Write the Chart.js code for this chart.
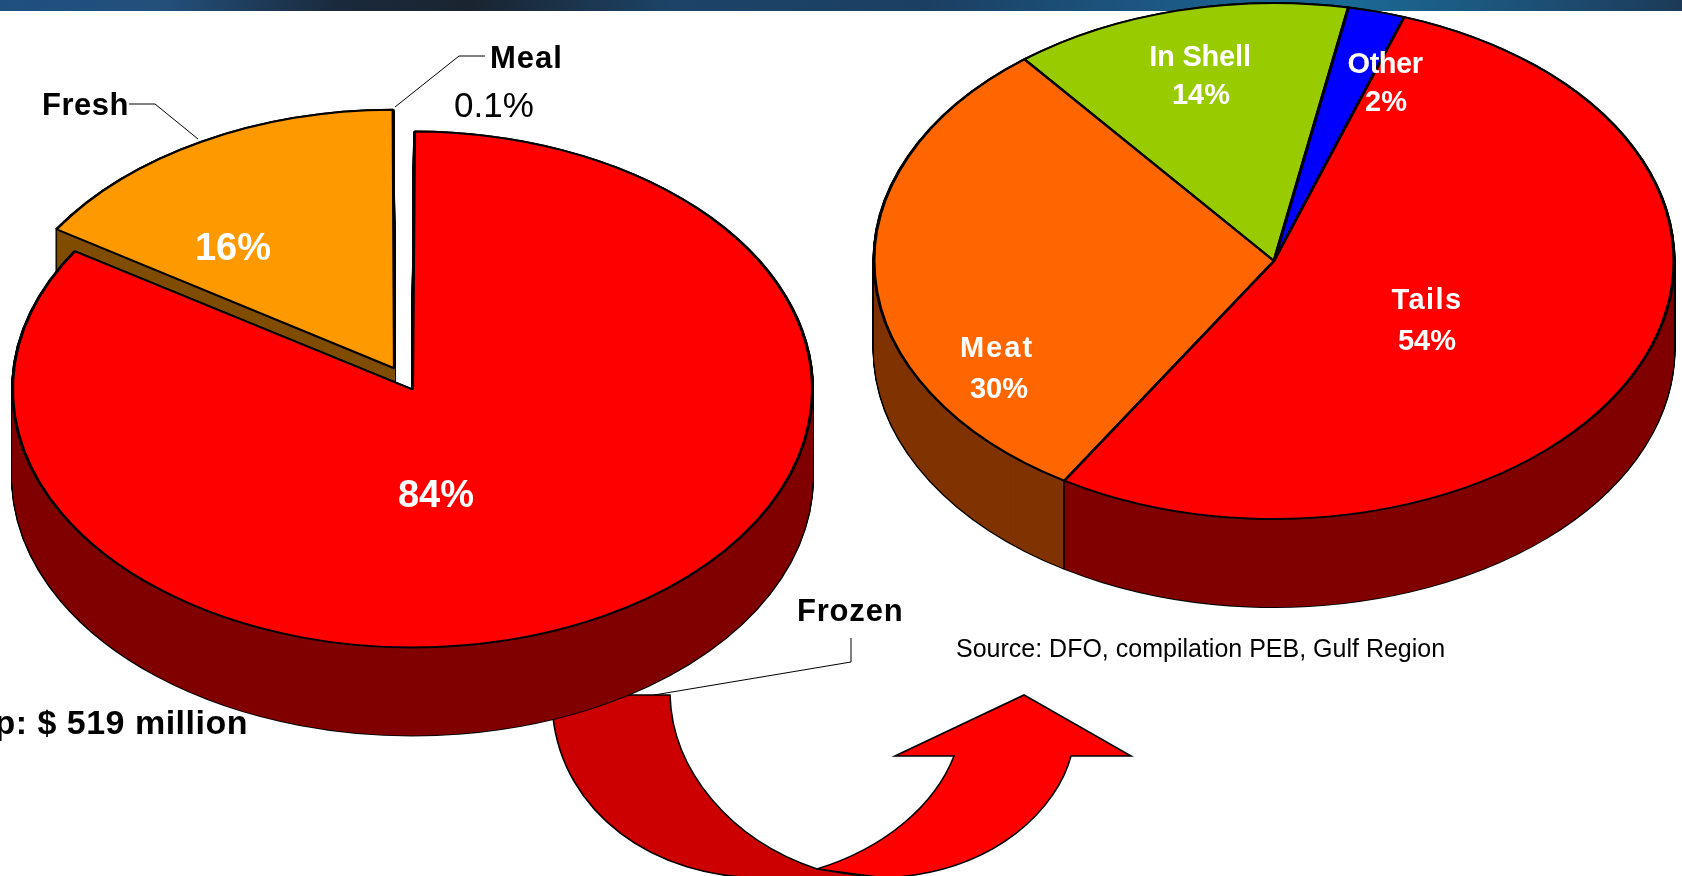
<!DOCTYPE html>
<html><head><meta charset="utf-8">
<style>html,body{margin:0;padding:0;background:#fff;overflow:hidden}
canvas{position:absolute;left:0;top:0}</style>
<script src="https://cdn.jsdelivr.net/npm/chart.js@4"></script>
</head><body>
<canvas id="a" width="1682" height="876"></canvas>
<canvas id="b" width="1682" height="876"></canvas>
<script>
const leftCategories=['Frozen','Fresh','Meal'];
const leftValues=[84,16,0.1];
const leftColors=['#ff0000','#ff9900','#ffffff'];
const leftWalls=['#800000','#804d00',null];
const leftOffsets=[0,150,0];
const rightCategories=['Tails','Meat','In Shell','Other'];
const rightValues=[53.5,30.5,13.7,2.3];
const rightPercents=['54%','30%','14%','2%'];
const rightColors=['#ff0000','#ff6600','#99cc00','#0000ff'];
const rightWalls=['#800000','#803300','#4d6600','#000080'];
const totalText='p: $ 519 million';
const sourceText='Source: DFO, compilation PEB, Gulf Region';
const FONT='"Liberation Sans", Arial, sans-serif';
const RX=400,K=0.645,DEPTH=88,EDGE=3;

function withOpts(arc,over,fn){const o=arc.options;const n=Object.create(o);
  for(const k in over)Object.defineProperty(n,k,{value:over[k]});arc.options=n;fn();arc.options=o;}
function pieAt(ctx,arc,cx,cy){ctx.save();ctx.translate(cx,cy);ctx.scale(1,K);ctx.translate(-arc.x,-arc.y);arc.draw(ctx);ctx.restore();}
function drawPie(chart,cx,cy,walls,wallOrder,topOrder){
  const ctx=chart.ctx,arcs=chart.getDatasetMeta(0).data;
  const wall=i=>{const a=arcs[i];if(!walls[i])return;
    withOpts(a,{backgroundColor:'#000',borderColor:'#000',borderWidth:EDGE},()=>{for(let d=DEPTH;d>=0;d-=1)pieAt(ctx,a,cx,cy+d);});
    withOpts(a,{backgroundColor:walls[i],borderColor:walls[i],borderWidth:0},()=>{for(let d=DEPTH;d>=0;d-=1)pieAt(ctx,a,cx,cy+d);});};
  wallOrder.forEach(wall);
  topOrder.forEach(i=>{if(topOrder.sep&&topOrder.sep[i])wall(i);pieAt(ctx,arcs[i],cx,cy);});
}
function txt(ctx,s,x,y,font,color,align,sp){ctx.save();ctx.font=font;ctx.fillStyle=color;ctx.textAlign=align||'center';ctx.textBaseline='middle';ctx.letterSpacing=(sp||0)+'px';ctx.fillText(s,x,y);ctx.restore();}
function poly(ctx,pts,w,col){ctx.save();ctx.beginPath();pts.forEach((p,i)=>i?ctx.lineTo(p[0],p[1]):ctx.moveTo(p[0],p[1]));ctx.lineWidth=w;ctx.strokeStyle=col;ctx.stroke();ctx.restore();}

function drawBand(ctx){const g=ctx.createLinearGradient(0,0,1682,0);
  [[0,'#1f4f80'],[.1,'#234f7a'],[.2,'#1a2a3c'],[.28,'#1a2430'],[.4,'#1c4468'],[.55,'#1b3f62'],[.7,'#1c5a86'],[.8,'#1a6a96'],[.92,'#1d4e73'],[1,'#1c3a58']].forEach(s=>g.addColorStop(s[0],s[1]));
  ctx.fillStyle=g;ctx.fillRect(0,0,1682,11);}
function drawArrow(ctx){
  ctx.save();ctx.lineWidth=1.6;ctx.strokeStyle='#000';
  ctx.beginPath();ctx.moveTo(817,869);ctx.bezierCurveTo(885,848,935,805,954,756);
  ctx.lineTo(895,756);ctx.lineTo(1024,695);ctx.lineTo(1131,756);ctx.lineTo(1071,756);
  ctx.bezierCurveTo(1058,805,1000,872,885,878);ctx.lineTo(817,869);ctx.closePath();
  ctx.fillStyle='#ff0000';ctx.fill();ctx.stroke();
  ctx.beginPath();ctx.moveTo(553,700);ctx.lineTo(553,717);ctx.bezierCurveTo(563,810,650,880,770,878);
  ctx.lineTo(880,879);ctx.lineTo(817,869);ctx.bezierCurveTo(730,840,672,770,670,695);ctx.lineTo(600,695);ctx.closePath();
  ctx.fillStyle='#cc0000';ctx.fill();ctx.stroke();ctx.restore();
}
const leftPlugin={id:'leftPie',
  beforeDatasetsDraw(chart){const ctx=chart.ctx;
    drawBand(ctx);drawArrow(ctx);
    poly(ctx,[[129,104],[155,104],[198,139]],1,'#000');
    poly(ctx,[[485,56],[459,56],[395,107]],1,'#000');
    poly(ctx,[[851,638],[851,662],[654,695]],1,'#000');
    chart.getDatasetMeta(0).data[1].outerRadius=RX-5;
    const order=[1,2,0];order.sep={1:true,0:true};
    drawPie(chart,412.5,389.5,leftWalls,[],order);
    return false;},
  afterDraw(chart){const ctx=chart.ctx,B='bold 38px '+FONT,L='bold 31px '+FONT;
    txt(ctx,leftValues[0]+'%',436,497,B,'#fff','center',0);
    txt(ctx,leftValues[1]+'%',233,250,B,'#fff','center',0);
    txt(ctx,leftCategories[1],42,106,L,'#000','left',0.5);
    txt(ctx,leftCategories[2],490,59,L,'#000','left',1);
    txt(ctx,leftValues[2]+'%',454,107,'35px '+FONT,'#000','left');
    txt(ctx,leftCategories[0],797,612,L,'#000','left',0.8);
    txt(ctx,totalText,248,725,'bold 34px '+FONT,'#000','right',0.5);
    txt(ctx,sourceText,956,650,'25px '+FONT,'#000','left');
  }};
const rightPos=[[1427,301,1427,342],[997,349,999,390],[1200,58,1201,96],[1385,65,1386,103]];
const rightSpacing=[1.4,2,-0.2,-0.5];
const rightPlugin={id:'rightPie',
  beforeDatasetsDraw(chart){drawPie(chart,1274,261,rightWalls,[2,3,1,0],[2,3,1,0]);return false;},
  afterDraw(chart){const ctx=chart.ctx,L='bold 29px '+FONT;
    rightCategories.forEach((c,i)=>{const p=rightPos[i];
      txt(ctx,c,p[0],p[1],L,'#fff','center',rightSpacing[i]);
      txt(ctx,rightPercents[i],p[2],p[3],L,'#fff','center',0);});
  }};
function make(id,labels,data,colors,offsets,rotation,plugin,widths){
  return new Chart(document.getElementById(id),{type:'pie',
    data:{labels,datasets:[{data,backgroundColor:colors,borderColor:'#000',borderWidth:widths,offset:offsets,clip:false}]},
    options:{responsive:false,animation:false,radius:RX,rotation,
      plugins:{legend:{display:false},tooltip:{enabled:false}},layout:{padding:0}},
    plugins:[plugin]});
}
make('a',leftCategories,leftValues,leftColors,leftOffsets,0.3,leftPlugin,[EDGE,EDGE,0]);
make('b',rightCategories,rightValues,rightColors,[0,0,0,0],19,rightPlugin,EDGE);
</script></body></html>
